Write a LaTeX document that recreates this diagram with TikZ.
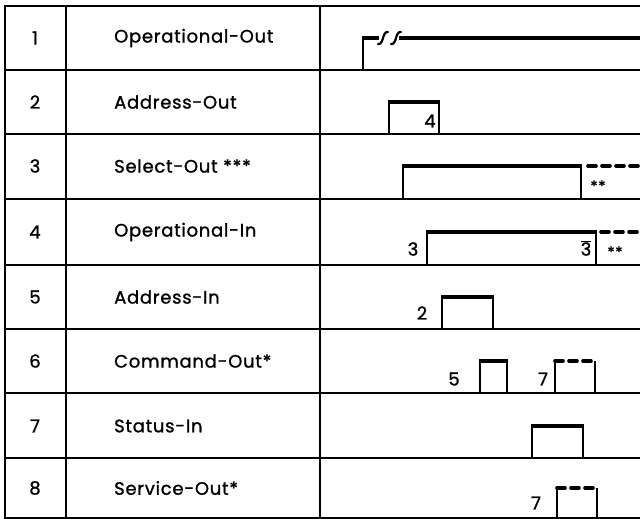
\documentclass[tikz,border=0pt]{standalone}
\usepackage{fontspec}
\setmainfont{Poppins}[FakeBold=1.2,LetterSpace=4]
\begin{document}
\begin{tikzpicture}
  [x=1pt,y=-1pt,every node/.style={inner sep=0pt,font=\fontsize{18}{20}\selectfont}]
  \tikzstyle{grid} = [line width=1.6pt]
  \tikzstyle{edge} = [line width=1.4pt]
  \tikzstyle{high} = [line width=3.6pt]
  \tikzstyle{dashhigh} = [line width=3.6pt,dash pattern=on 8pt off 6pt,line cap=round]
  \tikzstyle{note} = [font=\fontsize{15}{16}\selectfont]
  \useasboundingbox (0,0) rectangle (640,519);

  % table
  \draw[grid] (640,6) -- (5,6) -- (5,518) -- (640,518);
  \foreach \y in {70,134,199,265,329,393,458}
    \draw[grid] (5,\y) -- (640,\y);
  \draw[grid] (66,6) -- (66,518);
  \draw[grid] (320,6) -- (320,518);

  % line names
  \foreach \n/\y/\name in {1/38/Operational-Out,2/102/Address-Out,3/166/Select-Out ***,
      4/232/Operational-In,5/297/Address-In,6/361/Command-Out*,7/426/Status-In,8/488/Service-Out*}
  {
    \node (num\n) at (35,\y) {\n};
    \node[anchor=west] (name\n) at (114,\y) {\name};
  }

  % operational-out, with break
  \draw[edge] (363,70) -- (363,38);
  \draw[high] (362,38) -- (379,38);
  \foreach \x in {383,396}
    \draw[line width=2.2pt,line cap=round] (\x-5,44) .. controls (\x+1,45) and (\x-1,31) .. (\x+5,32);
  \draw[high] (399,38) -- (640,38);

  % pulses
  \foreach \a/\b/\lo/\hi in {389/439/134/102,403/581/199/166,427/596/265/232,
      442/493/329/297,480/507/393/361,532/583/458/426}
  {
    \draw[edge] (\a,\lo) -- (\a,\hi);
    \draw[edge] (\b,\hi) -- (\b,\lo);
    \draw[high] (\a-0.7,\hi) -- (\b+0.7,\hi);
  }
  \foreach \a/\b/\lo/\hi in {555/595/393/361,557/597/518/488}
  {
    \draw[edge] (\a,\lo) -- (\a,\hi);
    \draw[edge] (\b,\hi) -- (\b,\lo);
    \draw[dashhigh] (\a,\hi) -- (\b,\hi);
  }
  \draw[dashhigh] (588,166) -- (640,166);
  \draw[dashhigh] (601,232) -- (640,232);

  % labels
  \node (t4) at (430,121) {4};
  \node[note] (s3) at (598,186) {**};
  \node (t3) at (413,249) {3};
  \node (t3bar) at (586,248) {$\overline{\mbox{3}}$};
  \node[note] (s4) at (615,252) {**};
  \node (t2) at (422,313) {2};
  \node (t5) at (454,379) {5};
  \node (t7a) at (543,379) {7};
  \node (t7b) at (536,503) {7};
\end{tikzpicture}
\end{document}
